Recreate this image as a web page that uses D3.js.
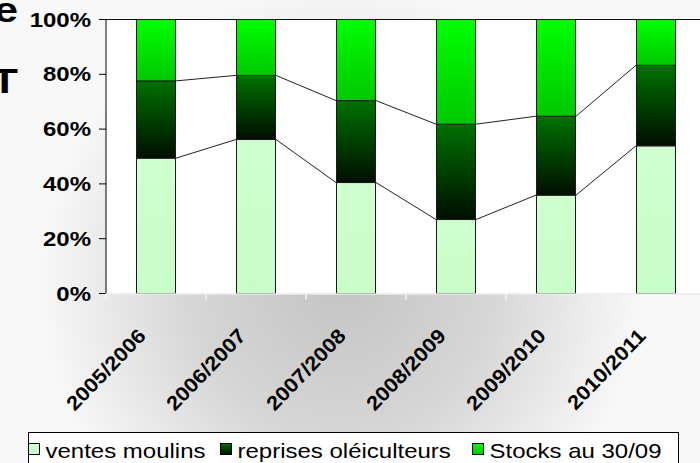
<!DOCTYPE html>
<html>
<head>
<meta charset="utf-8">
<script src="https://cdn.jsdelivr.net/npm/d3@7"></script>
<style>
  html, body { margin: 0; padding: 0; background: #fff; }
  svg { display: block; font-family: "Liberation Sans", Arial, sans-serif; }
</style>
</head>
<body>
<script>
// values (share of each season, %)
const seasons = ["2005/2006", "2006/2007", "2007/2008", "2008/2009", "2009/2010", "2010/2011"];
const ventes = [49.4, 56.2, 40.5, 27.0, 35.9, 53.9];
const reprises = [28.2, 23.4, 29.9, 34.8, 28.8, 29.4];
const stocks = [22.4, 20.4, 29.6, 38.2, 35.3, 16.7];
const seriesNames = ["ventes moulins", "reprises oléiculteurs", "Stocks au 30/09"];
const yTicks = [0, 20, 40, 60, 80, 100];

const width = 700, height = 463;
const plot = { left: 106, right: 706, top: 19.5, bottom: 293.5 };

const svg = d3.select("body").append("svg")
    .attr("width", width)
    .attr("height", height);

const defs = svg.append("defs");
// grey halo behind the plot
const bg = defs.append("radialGradient").attr("id", "bg")
    .attr("gradientUnits", "userSpaceOnUse")
    .attr("cx", 340).attr("cy", 285).attr("r", 300);
bg.append("stop").attr("offset", "0%").attr("stop-color", "#c4c4c4");
bg.append("stop").attr("offset", "50%").attr("stop-color", "#d6d6d6");
bg.append("stop").attr("offset", "100%").attr("stop-color", "#f8f8f8");

function vGrad(id, top, bottom) {
    const g = defs.append("linearGradient").attr("id", id)
        .attr("x1", 0).attr("y1", 0).attr("x2", 0).attr("y2", 1);
    g.append("stop").attr("offset", "0%").attr("stop-color", top);
    g.append("stop").attr("offset", "100%").attr("stop-color", bottom);
}
vGrad("g-ventes", "#cfffcf", "#c8fcc8");
vGrad("g-reprises", "#007200", "#000e00");
vGrad("g-stocks", "#00ff00", "#00c800");
const fills = ["url(#g-ventes)", "url(#g-reprises)", "url(#g-stocks)"];

svg.append("rect").attr("width", width).attr("height", height).attr("fill", "url(#bg)");

// cut-off title letters on the left edge
svg.append("text").attr("text-anchor", "end")
    .attr("transform", "translate(18,22) scale(1.2,1)")
    .style("font-size", "36px").style("font-weight", "bold").text("e");
svg.append("text").attr("text-anchor", "end")
    .attr("transform", "translate(18,93) scale(1.2,1)")
    .style("font-size", "36px").style("font-weight", "bold").text("T");

const x = d3.scaleBand().domain(seasons)
    .range([plot.left, plot.right])
    .paddingInner(0.6).paddingOuter(0.3);
const y = d3.scaleLinear().domain([0, 100]).range([plot.bottom, plot.top]);

// plot area
svg.append("rect")
    .attr("x", plot.left).attr("y", plot.top)
    .attr("width", plot.right - plot.left).attr("height", plot.bottom - plot.top)
    .attr("fill", "#fff");
svg.append("line")
    .attr("x1", plot.left).attr("x2", plot.right)
    .attr("y1", plot.top).attr("y2", plot.top)
    .attr("stroke", "#111");

// stacking
const rows = seasons.map((s, i) => ({ season: s, v: [ventes[i], reprises[i], stocks[i]] }));
const stacked = rows.map(r => {
    let acc = 0;
    return r.v.map((v, k) => { const seg = { season: r.season, k, y0: acc, y1: acc + v }; acc += v; return seg; });
});

// series lines between bars
[0, 1].forEach(k => {
    for (let i = 0; i < seasons.length - 1; i++) {
        svg.append("line")
            .attr("x1", x(seasons[i]) + x.bandwidth()).attr("y1", y(stacked[i][k].y1))
            .attr("x2", x(seasons[i + 1])).attr("y2", y(stacked[i + 1][k].y1))
            .attr("stroke", "#222").attr("stroke-width", 1);
    }
});

// bars
svg.append("g").selectAll("rect")
    .data(stacked.flat())
    .join("rect")
    .attr("x", d => x(d.season) + 0.5)
    .attr("y", d => y(d.y1))
    .attr("width", x.bandwidth() - 1)
    .attr("height", d => y(d.y0) - y(d.y1))
    .attr("fill", d => fills[d.k])
    .attr("stroke", "#1a1a1a")
    .attr("stroke-width", 1);

// y axis
const yAxis = svg.append("g");
yAxis.append("line")
    .attr("x1", plot.left).attr("x2", plot.left)
    .attr("y1", plot.top).attr("y2", plot.bottom)
    .attr("stroke", "#000");
yAxis.selectAll(".tick").data(yTicks).join("line")
    .attr("x1", plot.left - 7).attr("x2", plot.left)
    .attr("y1", d => y(d)).attr("y2", d => y(d))
    .attr("stroke", "#000");
yAxis.selectAll("text").data(yTicks).join("text")
    .attr("text-anchor", "end")
    .attr("transform", d => `translate(91,${y(d) + 7}) scale(1.2,1)`)
    .style("font-size", "20px").style("font-weight", "bold")
    .text(d => d + "%");

// x axis (light line on grey)
const xAxis = svg.append("g");
xAxis.append("line")
    .attr("x1", plot.left).attr("x2", plot.right)
    .attr("y1", plot.bottom + 0.5).attr("y2", plot.bottom + 0.5)
    .attr("stroke", "#eeeeee").attr("stroke-width", 1.5);
const step = x.step();
xAxis.selectAll(".tick").data(d3.range(seasons.length + 1)).join("line")
    .attr("x1", i => plot.left + i * step).attr("x2", i => plot.left + i * step)
    .attr("y1", plot.bottom).attr("y2", plot.bottom + 6)
    .attr("stroke", "#f4f4f4").attr("stroke-width", 1.5);
xAxis.selectAll("text").data(seasons).join("text")
    .attr("text-anchor", "end")
    .attr("transform", d => `translate(${x(d) + x.bandwidth() / 2 - 9},337) rotate(-46) scale(1.1,1)`)
    .style("font-size", "20px").style("font-weight", "bold")
    .text(d => d);

// legend
const legend = svg.append("g");
legend.append("rect")
    .attr("x", 28.5).attr("y", 432.5).attr("width", 650).attr("height", 45)
    .attr("fill", "#fff").attr("stroke", "#000");
const legendX = [28.5, 220.5, 472.5];
seriesNames.forEach((name, k) => {
    legend.append("rect")
        .attr("x", legendX[k]).attr("y", 443.5).attr("width", 11).attr("height", 11)
        .attr("fill", fills[k]).attr("stroke", "#000");
    legend.append("text")
        .attr("transform", `translate(${legendX[k] + 17},458) scale(1.2,1)`)
        .style("font-size", "20px")
        .text(name);
});
</script>
</body>
</html>
